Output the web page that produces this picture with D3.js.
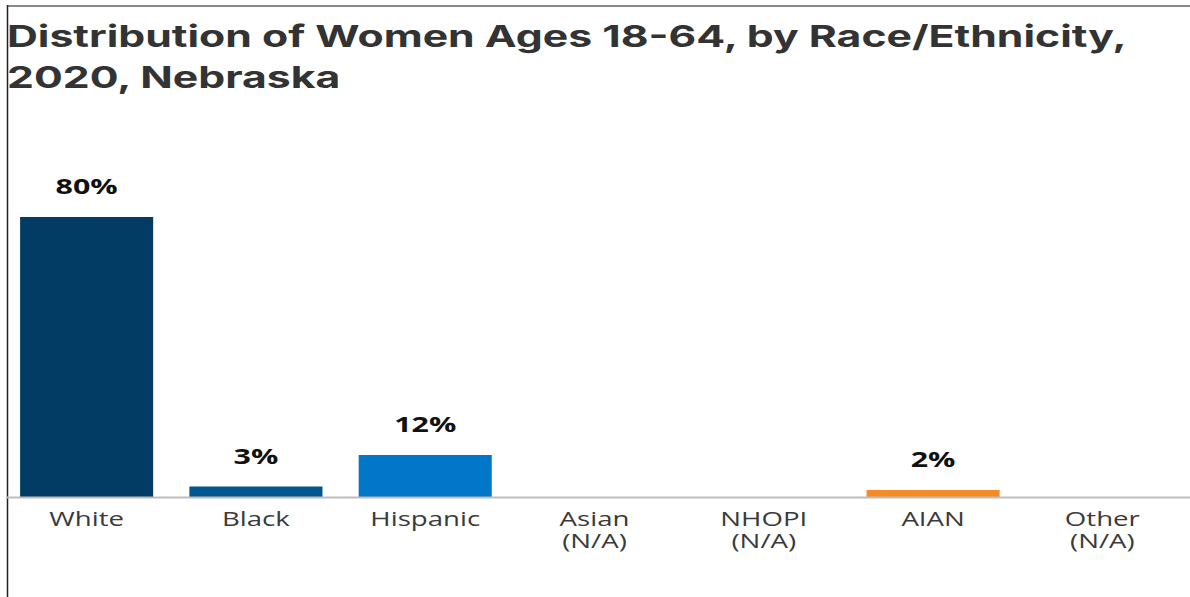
<!DOCTYPE html>
<html><head><meta charset="utf-8">
<script src="https://cdn.jsdelivr.net/npm/d3@7"></script>
<style>
html,body{margin:0;padding:0;background:#fff;}
svg{display:block;}
</style></head>
<body>
<script>
const categories = ["White", "Black", "Hispanic", "Asian", "NHOPI", "AIAN", "Other"];
const subLabels = ["", "", "", "(N/A)", "(N/A)", "", "(N/A)"];
const values = [80, 3, 12, null, null, 2, null];
const barColors = ["#023b63", "#02558f", "#0277c9", "#cccccc", "#cccccc", "#f68a24", "#cccccc"];
const titleLines = ["Distribution of Women Ages 18-64, by Race/Ethnicity,", "2020, Nebraska"];

const W = 1190, H = 597;
const SX = 1.38; // horizontal stretch of the reference text
const svg = d3.select("body").append("svg").attr("width", W).attr("height", H);

// frame lines
svg.append("line").attr("x1", 7).attr("x2", W).attr("y1", 6).attr("y2", 6)
  .attr("stroke", "#888").attr("stroke-width", 2);
svg.append("line").attr("x1", 7.5).attr("x2", 7.5).attr("y1", 5).attr("y2", H)
  .attr("stroke", "#222").attr("stroke-width", 1.5);

// title
svg.append("g").selectAll("g").data(titleLines).join("g")
  .attr("transform", (d, i) => `translate(7,${47 + i * 41}) scale(1.425,1)`)
  .append("text")
  .attr("font-family", "Inter, 'Noto Sans', sans-serif")
  .attr("font-weight", 700).attr("font-size", 30)
  .attr("fill", "#333").text(d => d);

const baseY = 497;
const x = d3.scaleBand().domain(categories).range([2, 1187]).paddingInner(0.214).paddingOuter(0.107);
const y = d3.scaleLinear().domain([0, 80]).range([baseY, 217]);

const data = categories.map((c, i) => ({c, v: values[i], sub: subLabels[i], color: barColors[i]}));

svg.append("g").selectAll("rect").data(data.filter(d => d.v != null)).join("rect")
  .attr("x", d => x(d.c)).attr("width", x.bandwidth())
  .attr("y", d => y(d.v)).attr("height", d => baseY - y(d.v))
  .attr("fill", d => d.color);

// axis
const axis = svg.append("g").attr("transform", `translate(0,${baseY})`)
  .call(d3.axisBottom(x).tickSize(0).tickPadding(0));
axis.select(".domain").remove();
axis.selectAll(".tick text").remove();
svg.append("line").attr("x1", 7).attr("x2", W).attr("y1", baseY + 0.5).attr("y2", baseY + 0.5)
  .attr("stroke", "#bdbdbd").attr("stroke-width", 2);

axis.selectAll(".tick").each(function(c, i) {
  const g = d3.select(this).append("g").attr("transform", `scale(${SX},1)`);
  const t = g.append("text").attr("text-anchor", "middle")
    .attr("font-family", "'Open Sans', sans-serif").attr("font-size", 20)
    .attr("fill", "#3a3a3a");
  t.append("tspan").attr("x", 0).attr("y", 29).text(c);
  if (subLabels[i]) t.append("tspan").attr("x", 0).attr("y", 51).text(subLabels[i]);
});

// value labels
svg.append("g").selectAll("g").data(data.filter(d => d.v != null)).join("g")
  .attr("transform", d => `translate(${x(d.c) + x.bandwidth() / 2},${y(d.v) - 23}) scale(${SX},1)`)
  .append("text")
  .attr("text-anchor", "middle")
  .attr("font-family", "'Open Sans', sans-serif").attr("font-weight", 700).attr("font-size", 22)
  .attr("fill", "#111").text(d => d3.format(".0f")(d.v) + "%");
</script>
</body></html>
